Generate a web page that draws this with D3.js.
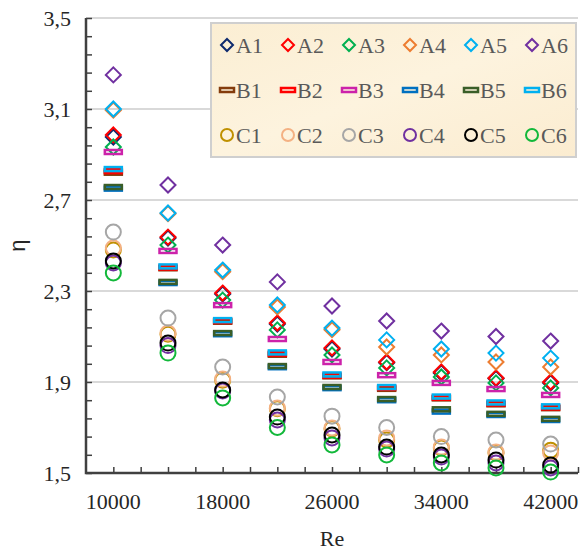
<!DOCTYPE html>
<html>
<head>
<meta charset="utf-8">
<script src="https://cdn.jsdelivr.net/npm/d3@7"></script>
<style>
  html, body { margin: 0; padding: 0; background: #fff; }
  svg { display: block; }
</style>
</head>
<body>
<div id="chart"></div>
<script>
// Reynolds numbers (x values)
const re = [10000, 14000, 18000, 22000, 26000, 30000, 34000, 38000, 42000];

// efficiency values per series
const A1 = [2.977, 2.533, 2.287, 2.155, 2.045, 1.985, 1.940, 1.915, 1.896];
const A2 = [2.986, 2.537, 2.291, 2.159, 2.050, 1.988, 1.944, 1.918, 1.900];
const A3 = [2.933, 2.502, 2.260, 2.129, 2.019, 1.962, 1.922, 1.896, 1.874];
const A4 = [3.095, 2.640, 2.385, 2.230, 2.130, 2.054, 2.019, 1.988, 1.966];
const A5 = [3.100, 2.643, 2.392, 2.239, 2.137, 2.085, 2.045, 2.027, 2.005];
const A6 = [3.250, 2.766, 2.502, 2.340, 2.234, 2.168, 2.124, 2.100, 2.080];
const B1 = [2.820, 2.400, 2.165, 2.020, 1.925, 1.870, 1.828, 1.802, 1.785];
const B2 = [2.827, 2.403, 2.168, 2.024, 1.928, 1.874, 1.831, 1.805, 1.788];
const B3 = [2.911, 2.476, 2.238, 2.089, 1.988, 1.930, 1.896, 1.869, 1.843];
const B4 = [2.750, 2.335, 2.110, 1.965, 1.873, 1.820, 1.770, 1.755, 1.733];
const B5 = [2.757, 2.340, 2.115, 1.970, 1.878, 1.825, 1.780, 1.760, 1.738];
const B6 = [2.836, 2.408, 2.172, 2.030, 1.933, 1.878, 1.836, 1.810, 1.793];
const C1 = [2.480, 2.110, 1.908, 1.782, 1.694, 1.645, 1.610, 1.588, 1.600];
const C2 = [2.489, 2.115, 1.913, 1.786, 1.698, 1.654, 1.614, 1.592, 1.588];
const C3 = [2.559, 2.181, 1.966, 1.834, 1.750, 1.700, 1.660, 1.645, 1.627];
const C4 = [2.423, 2.060, 1.860, 1.733, 1.654, 1.605, 1.570, 1.544, 1.522];
const C5 = [2.432, 2.071, 1.865, 1.746, 1.667, 1.614, 1.579, 1.557, 1.535];
const C6 = [2.379, 2.027, 1.830, 1.700, 1.623, 1.579, 1.544, 1.522, 1.504];

const seriesNames = ["A1", "A2", "A3", "A4", "A5", "A6",
                     "B1", "B2", "B3", "B4", "B5", "B6",
                     "C1", "C2", "C3", "C4", "C5", "C6"];
const seriesValues = [A1, A2, A3, A4, A5, A6, B1, B2, B3, B4, B5, B6, C1, C2, C3, C4, C5, C6];

// axis ticks
const xTickLabels = [10000, 18000, 26000, 34000, 42000];
const yTickLabels = [1.5, 1.9, 2.3, 2.7, 3.1, 3.5];

// styles
const colors = {
  A1: "#0e2a6e", A2: "#ff0000", A3: "#00b050", A4: "#ed7d31", A5: "#00b0f0", A6: "#7030a0",
  B1: "#843c0c", B2: "#ff0000", B3: "#cc22aa", B4: "#0070c0", B5: "#3a5e28", B6: "#00b0f0",
  C1: "#bf9000", C2: "#f4b183", C3: "#a6a6a6", C4: "#7030a0", C5: "#000000", C6: "#12b83a"
};
const shapeOf = name => name[0] === "A" ? "diamond" : (name[0] === "B" ? "dash" : "circle");

const width = 582, height = 552;
const margin = { left: 86, right: 4, top: 18, bottom: 79 };
const serif = "'Liberation Serif', 'Times New Roman', serif";

const svg = d3.select("#chart").append("svg")
  .attr("width", width)
  .attr("height", height);

const x = d3.scaleLinear().domain([8000, 44000]).range([margin.left, width - margin.right]);
const y = d3.scaleLinear().domain([1.5, 3.5]).range([height - margin.bottom, margin.top]);

// gridlines
svg.append("g")
  .selectAll("line")
  .data(yTickLabels)
  .enter()
  .append("line")
  .attr("x1", x(8000))
  .attr("x2", x(44000))
  .attr("y1", d => y(d))
  .attr("y2", d => y(d))
  .attr("stroke", "#d9d9d9")
  .attr("stroke-width", 2);

// y axis with inner minor ticks
const yMinor = d3.range(0, 26).map(i => 1.5 + i * 0.08);
const yAxis = svg.append("g")
  .attr("transform", `translate(${margin.left},0)`)
  .call(d3.axisRight(y).tickValues(yMinor).tickSize(6).tickFormat(""));
yAxis.select(".domain").remove();
yAxis.selectAll("line").attr("stroke", "#404040").attr("stroke-width", 1.5);

svg.append("g")
  .selectAll("text")
  .data(yTickLabels)
  .enter()
  .append("text")
  .attr("x", margin.left - 15)
  .attr("y", d => y(d))
  .attr("dy", "0.35em")
  .attr("text-anchor", "end")
  .style("font-family", serif)
  .style("font-size", "22px")
  .attr("fill", "#262626")
  .text(d => d3.format(".1f")(d).replace(".", ","));

// x axis with inner minor ticks
const xMinor = d3.range(10000, 44001, 2000);
const xAxis = svg.append("g")
  .attr("transform", `translate(0,${y(1.5)})`)
  .call(d3.axisTop(x).tickValues(xMinor).tickSize(6).tickFormat(""));
xAxis.select(".domain").remove();
xAxis.selectAll("line").attr("stroke", "#404040").attr("stroke-width", 1.5);

svg.append("g")
  .selectAll("text")
  .data(xTickLabels)
  .enter()
  .append("text")
  .attr("x", d => x(d))
  .attr("y", y(1.5) + 36)
  .attr("text-anchor", "middle")
  .style("font-family", serif)
  .style("font-size", "22px")
  .attr("fill", "#262626")
  .text(d => d);

// axis lines
svg.append("path")
  .attr("d", `M${x(8000)},${y(3.5)}V${y(1.5)}H${x(44000)}`)
  .attr("fill", "none")
  .attr("stroke", "#404040")
  .attr("stroke-width", 2.5);

// axis titles
svg.append("text")
  .attr("x", (x(8000) + x(44000)) / 2)
  .attr("y", 546)
  .attr("text-anchor", "middle")
  .style("font-family", serif)
  .style("font-size", "22px")
  .attr("fill", "#262626")
  .text("Re");

svg.append("text")
  .attr("transform", `translate(25,${(y(1.5) + y(3.5)) / 2}) rotate(-90)`)
  .attr("text-anchor", "middle")
  .style("font-family", "'Liberation Sans', Arial, sans-serif")
  .style("font-size", "22px")
  .attr("fill", "#262626")
  .text("η");

// marker drawing helper
function drawMarker(sel, name, cx, cy, s) {
  const c = colors[name];
  const shape = shapeOf(name);
  if (shape === "diamond") {
    sel.append("path")
      .attr("d", `M${cx},${cy - s}L${cx + s},${cy}L${cx},${cy + s}L${cx - s},${cy}Z`)
      .attr("fill", "none").attr("stroke", c).attr("stroke-width", 2);
  } else if (shape === "dash") {
    sel.append("rect")
      .attr("x", cx - s - 1).attr("y", cy - 2)
      .attr("width", 2 * s + 2).attr("height", 4)
      .attr("fill", "none").attr("stroke", c).attr("stroke-width", 2.5);
  } else {
    sel.append("circle")
      .attr("cx", cx).attr("cy", cy).attr("r", s)
      .attr("fill", "none").attr("stroke", c).attr("stroke-width", 2);
  }
}

// points
const pts = svg.append("g");
seriesNames.forEach((name, si) => {
  const g = pts.append("g").attr("class", "series-" + name);
  seriesValues[si].forEach((v, i) => drawMarker(g, name, x(re[i]), y(v), 7.5));
});

// legend
const legend = svg.append("g").attr("transform", "translate(211,23)");
const bg = svg.append("defs").append("linearGradient")
  .attr("id", "parchment").attr("x1", 0).attr("y1", 0).attr("x2", 1).attr("y2", 1);
bg.append("stop").attr("offset", "0%").attr("stop-color", "#fbeed3");
bg.append("stop").attr("offset", "50%").attr("stop-color", "#fdf3de");
bg.append("stop").attr("offset", "100%").attr("stop-color", "#fbecd0");
legend.append("rect")
  .attr("width", 365).attr("height", 134)
  .attr("fill", "url(#parchment)")
  .attr("stroke", "#cfcfcf").attr("stroke-width", 2);

seriesNames.forEach((name, i) => {
  const col = i % 6, row = Math.floor(i / 6);
  const lx = 16 + col * 61, ly = 22 + row * 45;
  drawMarker(legend, name, lx, ly, 6);
  legend.append("text")
    .attr("x", lx + 9)
    .attr("y", ly)
    .attr("dy", "0.35em")
    .style("font-family", serif)
    .style("font-size", "22px")
    .attr("fill", "#595959")
    .text(name);
});
</script>
</body>
</html>
